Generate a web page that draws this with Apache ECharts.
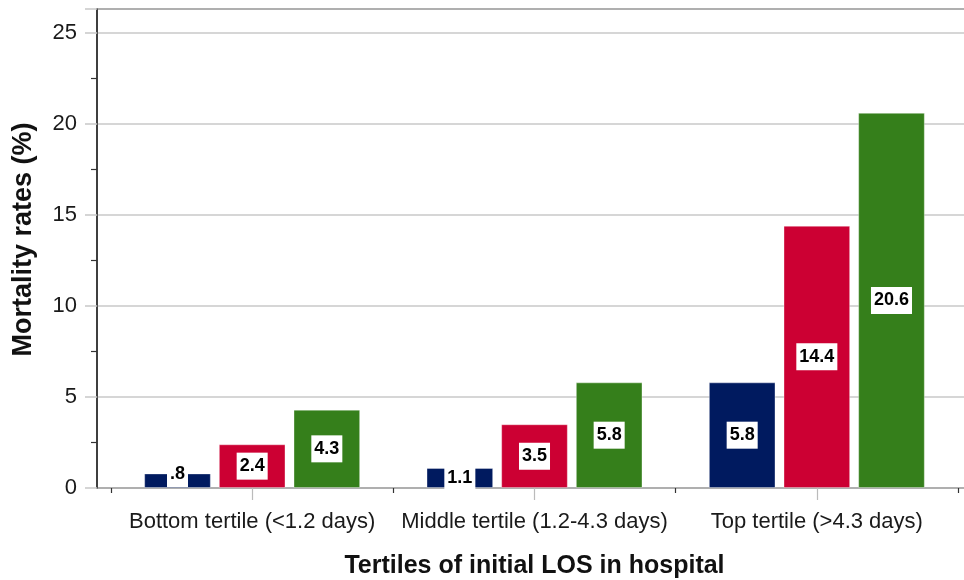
<!DOCTYPE html>
<html>
<head>
<meta charset="utf-8">
<script src="https://cdn.jsdelivr.net/npm/echarts@6/dist/echarts.min.js"></script>
<style>html,body{margin:0;padding:0;background:#fff;}#c{width:964px;height:580px;}</style>
</head>
<body>
<div id="c"></div>
<script>
var categories = ['Bottom tertile (<1.2 days)', 'Middle tertile (1.2-4.3 days)', 'Top tertile (>4.3 days)'];
var seriesNames = ['Group 1', 'Group 2', 'Group 3'];
var blueValues = [0.8, 1.1, 5.8];
var redValues = [2.4, 3.5, 14.4];
var greenValues = [4.3, 5.8, 20.6];
var colors = ['#001a5f', '#cc0033', '#357f1b'];
var yMax = 26.3;

var FONT = 'Liberation Sans, Arial, sans-serif';
function fmt(p) {
  var s = String(p.value);
  return s.replace(/^0\./, '.');
}
function buildData(vals) {
  return vals.map(function (v) {
    if (v < 1) return { value: v, label: { position: 'insideBottom', distance: 1 } };
    return v;
  });
}
function makeSeries(name, vals, color) {
  return {
    name: name, type: 'bar', xAxisIndex: 1, yAxisIndex: 1,
    data: buildData(vals),
    barCategoryGap: '23.5%', barGap: '12%',
    itemStyle: { color: color, borderColor: 'rgba(255,255,255,0.35)', borderWidth: 1 },
    label: {
      show: true, position: 'inside', formatter: fmt,
      backgroundColor: '#ffffff', color: '#000', fontWeight: 'bold',
      fontSize: 18, fontFamily: FONT, padding: [5, 3, 4, 3]
    },
    silent: true
  };
}
var chart = echarts.init(document.getElementById('c'), null, { renderer: 'canvas' });
chart.setOption({
  animation: false,
  grid: [
    { left: 97, right: -8, top: 9, bottom: 92, show: true, borderColor: '#333', borderWidth: 1.5,
      backgroundColor: 'transparent', outerBoundsMode: 'none', containLabel: false },
    { left: 111, right: 6, top: 9, bottom: 92, outerBoundsMode: 'none', containLabel: false }
  ],
  xAxis: [
    { type: 'value', gridIndex: 0, show: false, min: 0, max: 1 },
    { type: 'category', gridIndex: 1, data: categories, position: 'bottom',
      axisLine: { show: false }, axisLabel: { show: false },
      axisTick: { show: true, length: 5, lineStyle: { color: '#333', width: 1.2 } } },
    { type: 'category', gridIndex: 1, data: categories, position: 'bottom',
      axisLine: { show: false },
      axisTick: { show: true, alignWithLabel: true, length: 12, lineStyle: { color: '#bbb', width: 1.2 } },
      axisLabel: { interval: 0, fontSize: 22, color: '#1a1a1a', fontFamily: FONT, margin: 23 },
      name: 'Tertiles of initial LOS in hospital', nameLocation: 'middle', nameGap: 66,
      nameTextStyle: { fontSize: 25, fontWeight: 'bold', color: '#111', fontFamily: FONT } }
  ],
  yAxis: [
    { type: 'value', gridIndex: 0, min: 0, max: yMax, interval: 5,
      axisLine: { show: true, lineStyle: { color: '#333', width: 1.5 } },
      axisTick: { show: true, length: 12, lineStyle: { color: '#c8c8c8', width: 1.5 } },
      minorTick: { show: true, splitNumber: 2, length: 6, lineStyle: { color: '#333', width: 1.2 } },
      splitLine: { show: true, lineStyle: { color: '#c8c8c8', width: 1.5 } },
      axisLabel: { fontSize: 22, color: '#1a1a1a', fontFamily: FONT, margin: 20,
        showMaxLabel: false },
      name: 'Mortality rates (%)', nameLocation: 'middle', nameGap: 60,
      nameTextStyle: { fontSize: 27, fontWeight: 'bold', color: '#111', fontFamily: FONT,
        padding: [0, 0, 0, 18] } },
    { type: 'value', gridIndex: 1, min: 0, max: yMax, show: false }
  ],
  series: [
    makeSeries(seriesNames[0], blueValues, colors[0]),
    makeSeries(seriesNames[1], redValues, colors[1]),
    makeSeries(seriesNames[2], greenValues, colors[2])
  ]
});
</script>
</body>
</html>
